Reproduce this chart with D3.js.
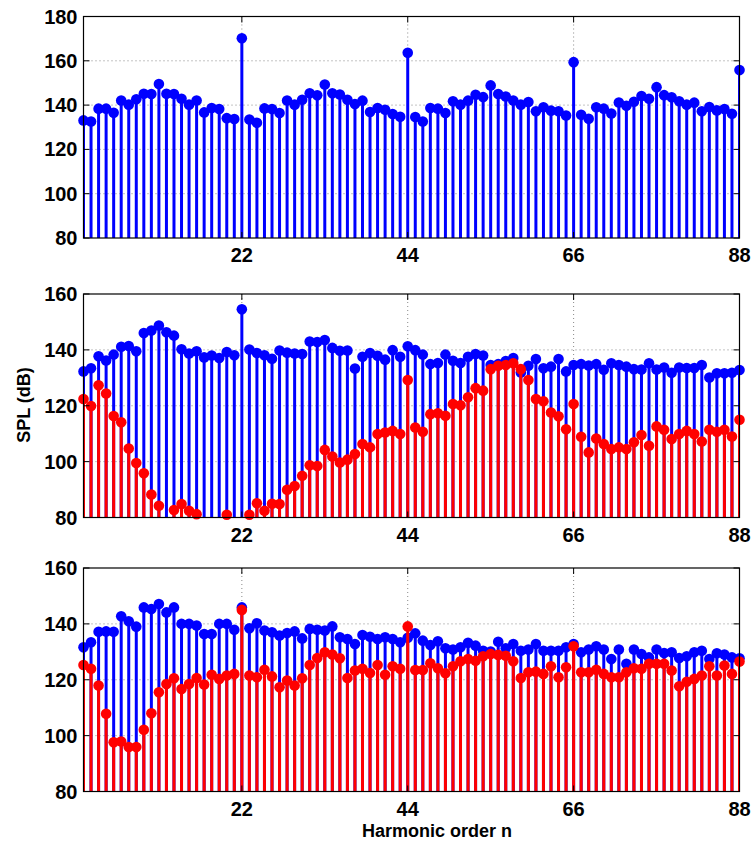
<!DOCTYPE html>
<html><head><meta charset="utf-8">
<script src="https://cdn.jsdelivr.net/npm/d3@7"></script>
<style>body{margin:0;background:#fff}svg{display:block}text{font-family:"Liberation Sans",Arial,sans-serif;font-weight:bold}</style>
</head><body><svg id="c" width="753" height="843"></svg>
<script>
const harmonics = d3.range(1, 89);
const xTicks = [22, 44, 66, 88];
const yTicksTop = [80, 100, 120, 140, 160, 180];
const yTicksLow = [80, 100, 120, 140, 160];

const p1Blue = [133.1,132.6,138.4,138.4,136.5,142.1,140.2,142.6,145.1,145.0,149.5,145.1,145.0,142.9,140.2,142.1,136.7,138.7,138.2,134.1,133.7,170.2,
133.5,132.0,138.5,138.2,136.4,142.1,140.2,142.4,145.3,144.4,149.3,145.3,144.8,142.4,140.5,142.0,136.9,138.7,137.9,136.0,134.7,163.6,
134.6,132.6,138.7,138.4,136.4,141.7,140.2,142.0,144.7,143.6,148.9,145.0,143.9,142.1,140.2,141.4,137.2,139.0,137.5,137.2,135.3,159.4,
135.6,133.8,139.0,138.4,136.2,141.2,139.7,141.5,144.1,142.9,148.1,144.5,143.5,141.7,140.2,141.1,137.2,139.1,137.6,138.2,136.1,155.8];

const p2Blue = [132.3,133.4,137.7,136.2,138.3,141.1,141.4,139.5,146.0,146.9,148.7,146.3,145.1,140.2,138.7,139.5,137.3,138.0,137.1,139.2,138.1,154.5,
140.1,138.9,138.1,136.8,139.8,139.0,138.7,138.5,143.0,142.8,143.5,140.7,139.7,139.8,133.3,137.5,138.9,137.9,136.5,139.9,137.5,141.3,
139.9,138.3,134.9,135.3,138.3,136.1,135.3,137.5,138.5,138.0,134.6,134.9,136.0,137.1,131.9,134.3,136.7,133.4,134.0,136.7,132.3,134.6,
134.9,134.4,134.9,132.9,135.2,134.6,134.0,133.1,133.0,135.2,133.0,133.7,131.8,133.7,133.5,133.5,134.6,130.1,131.6,131.6,131.8,132.8];

const p2Red = [122.4,119.9,127.3,124.4,116.3,114.1,104.7,99.5,95.8,88.2,84.2,77.0,82.7,84.8,82.4,81.2,78.0,77.5,78.5,81.0,78.0,76.0,
81.0,85.1,82.4,84.9,84.8,89.9,91.3,94.9,98.7,98.4,104.2,101.8,99.7,100.7,102.7,106.3,105.1,109.9,110.4,111.0,109.9,129.2,
112.2,110.7,117.0,117.3,116.4,120.6,120.2,123.0,126.3,125.4,133.1,134.3,134.6,135.2,133.1,129.2,122.4,121.6,117.6,116.2,111.6,120.6,
108.9,103.3,108.3,106.3,104.5,105.1,104.5,106.9,109.5,105.7,112.6,111.4,108.1,109.9,111.0,109.9,107.2,111.4,110.7,111.4,109.0,115.0];

const p3Blue = [131.6,133.4,137.2,137.3,137.2,142.7,140.9,139.0,145.9,145.3,147.1,144.1,145.9,140.0,140.0,139.4,136.4,136.4,140.0,140.0,137.9,145.9,
138.4,140.2,137.6,137.0,135.8,136.7,137.3,134.8,138.2,137.9,137.6,139.1,135.2,134.6,132.8,136.0,135.4,134.6,135.2,134.6,133.4,135.0,
136.6,134.0,132.4,133.8,131.3,130.8,131.6,133.2,132.2,130.4,130.1,133.6,131.3,132.8,130.4,130.8,132.8,130.4,130.4,130.4,131.6,132.8,
129.8,130.8,132.0,130.8,127.4,130.8,125.7,130.8,129.2,128.0,130.8,129.6,129.8,127.8,128.4,129.8,130.4,127.4,129.5,129.0,128.0,127.7];

const p3Red = [125.3,123.9,117.9,107.8,97.6,97.9,95.9,95.9,102.1,108.0,115.5,118.5,120.5,116.7,118.5,120.6,118.3,121.8,120.3,121.5,122.1,145.0,
121.5,120.9,123.6,121.2,117.3,119.7,117.9,120.5,125.3,127.8,129.8,129.0,127.7,120.6,123.3,123.9,122.4,125.3,121.8,124.8,123.9,139.1,
123.5,123.5,125.9,124.1,122.3,124.8,126.6,127.4,126.8,128.4,129.2,128.9,128.6,126.6,120.6,122.7,122.9,122.1,124.8,120.9,124.5,132.0,
122.7,122.7,123.6,122.1,120.9,120.9,122.7,124.1,123.9,125.7,125.7,125.7,123.3,117.7,119.3,120.3,121.5,124.8,121.5,125.1,122.1,126.5];

const panels = [
  {top: 16.5, bottom: 238, yMax: 180, yTicks: yTicksTop, series: [{v: p1Blue, c: "#0000ff"}]},
  {top: 294, bottom: 517.5, yMax: 160, yTicks: yTicksLow, series: [{v: p2Blue, c: "#0000ff"}, {v: p2Red, c: "#ff0000"}]},
  {top: 568, bottom: 791.5, yMax: 160, yTicks: yTicksLow, series: [{v: p3Blue, c: "#0000ff"}, {v: p3Red, c: "#ff0000"}]}
];

const svg = d3.select("#c");
const left = 83.5, right = 739.5;
const x = d3.scaleLinear().domain([1, 88]).range([left, right]);

panels.forEach((p, i) => {
  const y = d3.scaleLinear().domain([80, p.yMax]).range([p.bottom, p.top]);
  const g = svg.append("g");
  const clipId = "clip" + i;
  svg.append("clipPath").attr("id", clipId).append("rect")
    .attr("x", left).attr("y", p.top).attr("width", right - left).attr("height", p.bottom - p.top);

  const grid = g.append("g").attr("stroke", "#888").attr("stroke-dasharray", "1,3").attr("stroke-width", 1);
  p.yTicks.filter(t => t > 80 && t < p.yMax).forEach(t => {
    grid.append("line").attr("x1", left).attr("x2", right).attr("y1", y(t)).attr("y2", y(t));
  });
  xTicks.filter(t => t < 88).forEach(t => {
    grid.append("line").attr("x1", x(t)).attr("x2", x(t)).attr("y1", p.top).attr("y2", p.bottom);
  });

  p.series.forEach(s => {
    const sg = g.append("g");
    sg.append("g").attr("clip-path", `url(#${clipId})`).selectAll("line").data(harmonics)
      .join("line")
      .attr("x1", d => x(d)).attr("x2", d => x(d))
      .attr("y1", p.bottom + 2).attr("y2", d => y(s.v[d - 1]))
      .attr("stroke", s.c).attr("stroke-width", 3);
    sg.append("g").selectAll("circle").data(harmonics.filter(d => s.v[d - 1] >= 80))
      .join("circle")
      .attr("cx", d => x(d)).attr("cy", d => y(s.v[d - 1]))
      .attr("r", 5.3).attr("fill", s.c);
  });

  g.append("rect").attr("x", left).attr("y", p.top).attr("width", right - left).attr("height", p.bottom - p.top)
    .attr("fill", "none").attr("stroke", "#000").attr("stroke-width", 1.2);

  const tk = g.append("g").attr("stroke", "#000").attr("stroke-width", 1);
  p.yTicks.forEach(t => {
    tk.append("line").attr("x1", left).attr("x2", left + 6).attr("y1", y(t)).attr("y2", y(t));
    tk.append("line").attr("x1", right).attr("x2", right - 6).attr("y1", y(t)).attr("y2", y(t));
  });
  xTicks.forEach(t => {
    tk.append("line").attr("x1", x(t)).attr("x2", x(t)).attr("y1", p.bottom).attr("y2", p.bottom - 6);
    tk.append("line").attr("x1", x(t)).attr("x2", x(t)).attr("y1", p.top).attr("y2", p.top + 6);
  });

  p.yTicks.forEach(t => {
    g.append("text").attr("x", left - 6).attr("y", y(t) + 7).attr("text-anchor", "end")
      .attr("font-size", 20).text(t);
  });
  xTicks.forEach(t => {
    g.append("text").attr("x", x(t)).attr("y", p.bottom + 24).attr("text-anchor", "middle")
      .attr("font-size", 20).text(t);
  });
});

svg.append("text").attr("transform", "translate(30,405) rotate(-90)").attr("text-anchor", "middle")
  .attr("font-size", 18).text("SPL (dB)");
svg.append("text").attr("x", 437).attr("y", 837).attr("text-anchor", "middle")
  .attr("font-size", 18).text("Harmonic order n");
</script></body></html>
